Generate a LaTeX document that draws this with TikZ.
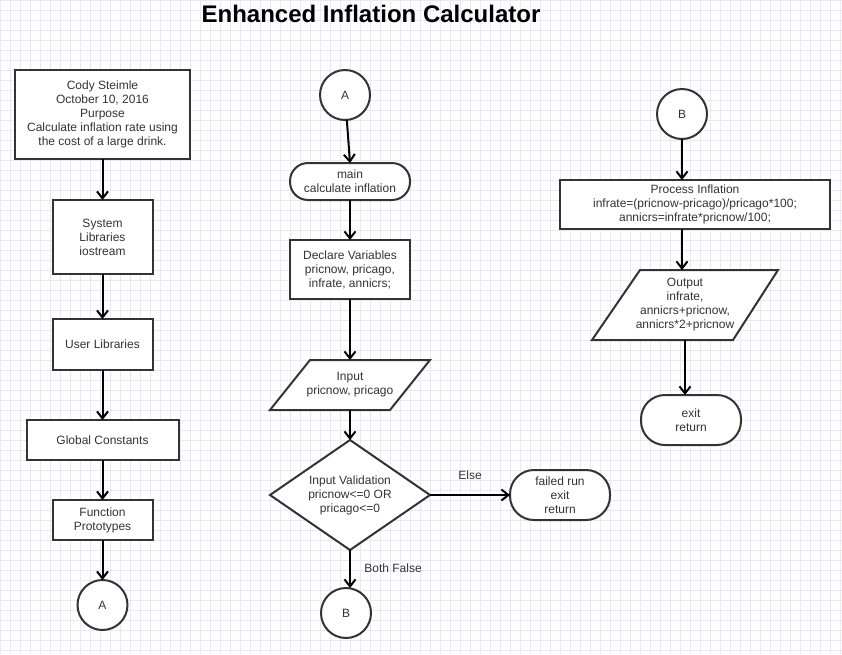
\documentclass[tikz,border=0pt]{standalone}
\usepackage{fontspec}
\setmainfont{Liberation Sans}
\usetikzlibrary{positioning,arrows.meta,backgrounds}

\definecolor{gridc}{RGB}{232,232,250}
\definecolor{inkc}{RGB}{51,51,51}

\begin{document}
\begin{tikzpicture}[
    x=1pt, y=-1pt,
    node distance=40pt,
    every node/.style={font=\fontsize{12}{14}\selectfont, text=inkc},
    proc/.style={rectangle, draw=inkc, line width=2pt, fill=white, align=center, outer sep=0pt},
    term/.style={rectangle, draw=inkc, line width=2pt, fill=white, rounded corners=18pt, align=center, outer sep=0pt},
    conn/.style={circle, draw=inkc, line width=2pt, fill=white, minimum size=50pt, inner sep=0pt, outer sep=0pt},
    frame/.style={rectangle, inner sep=0pt, outer sep=0pt, align=center},
    shapeline/.style={draw=inkc, line width=2pt, fill=white},
    arrow/.style={-{Straight Barb[length=7pt,width=11pt]}, line width=2pt, black},
    gridline/.style={gridc, line width=1pt},
]
    \useasboundingbox (0,0) rectangle (842,654);

    % Grid paper
    \begin{scope}[on background layer]
        \fill[white] (0,0) rectangle (842,654);
        \foreach \gx in {0,10,...,840} \draw[gridline] (\gx,0) -- (\gx,654);
        \foreach \gy in {0,10,...,650} \draw[gridline] (0,\gy) -- (842,\gy);
    \end{scope}

    % Title
    \node[font=\fontsize{24}{28}\selectfont\bfseries, text=black] (title) at (371,14) {Enhanced Inflation Calculator};

    % Left column
    \node[proc, minimum width=175pt, minimum height=89pt] (info) at (102.5,114.5) {Cody Steimle\\October 10, 2016\\Purpose\\Calculate inflation rate using\\the cost of a large drink.};
    \node[proc, minimum width=100pt, minimum height=74pt, below=41pt of info] (syslib) {System\\Libraries\\iostream};
    \node[proc, minimum width=100pt, minimum height=51pt, below=45pt of syslib] (userlib) {User Libraries};
    \node[proc, minimum width=152pt, minimum height=40pt, below=50pt of userlib] (consts) {Global Constants};
    \node[proc, minimum width=100pt, minimum height=40pt, below=40pt of consts] (protos) {Function\\Prototypes};
    \node[conn, below=40pt of protos] (toA) {A};

    % Middle column
    \node[conn] (fromA) at (345,95) {A};
    \node[term, minimum width=120pt, minimum height=37pt] (main) at (350,181.5) {main\\calculate inflation};
    \node[proc, minimum width=120pt, minimum height=59pt, below=40pt of main] (decl) {Declare Variables\\pricnow, pricago,\\infrate, annicrs;};
    \node[frame, minimum width=160pt, minimum height=50pt, below=61pt of decl] (input) {Input\\pricnow, pricago};
    \node[frame, minimum width=160pt, minimum height=110pt, below=30pt of input] (valid) {Input Validation\\pricnow<=0 OR\\pricago<=0};
    \node[term, minimum width=100pt, minimum height=50pt, rounded corners=24pt, right=80pt of valid] (fail) {failed run\\exit\\return};
    \node[conn] (toB) at (346,613) {B};

    % Right column
    \node[conn] (fromB) at (682,114) {B};
    \node[proc, minimum width=270pt, minimum height=49pt] (calc) at (695,204.5) {Process Inflation\\infrate=(pricnow-pricago)/pricago*100;\\annicrs=infrate*pricnow/100;};
    \node[frame, minimum width=186pt, minimum height=70pt] (output) at (685,305) {Output\\infrate,\\annicrs+pricnow,\\annicrs*2+pricnow};
    \node[term, minimum width=100pt, minimum height=50pt, rounded corners=24pt] (done) at (691,420) {exit\\return};

    % Parallelograms and decision
    \begin{scope}[on background layer]
        \draw[shapeline] (input.south west) -- ([xshift=40pt]input.north west) -- (input.north east) -- ([xshift=-40pt]input.south east) -- cycle;
        \draw[shapeline] (valid.north) -- (valid.east) -- (valid.south) -- (valid.west) -- cycle;
        \draw[shapeline] (output.south west) -- ([xshift=48pt]output.north west) -- (output.north east) -- ([xshift=-45pt]output.south east) -- cycle;
    \end{scope}

    % Left arrows
    \draw[arrow] (info) -- (syslib);
    \draw[arrow] (syslib) -- (userlib);
    \draw[arrow] (userlib) -- (consts);
    \draw[arrow] (consts) -- (protos);
    \draw[arrow] (protos) -- (toA);

    % Middle arrows
    \draw[arrow] (fromA) -- (main.north);
    \draw[arrow] (main) -- (decl);
    \draw[arrow] (decl) -- (input);
    \draw[arrow] (input) -- (valid.north);
    \draw[arrow] (valid.east) -- node[midway, above=11pt] (elselbl) {Else} (fail);
    \draw[arrow] (valid.south) -- node[midway, right=10pt, yshift=1pt] (falselbl) {Both False} (valid.south |- toB.north);

    % Right arrows
    \draw[arrow] (fromB) -- (fromB |- calc.north);
    \draw[arrow] (fromB |- calc.south) -- (fromB |- output.north);
    \draw[arrow] (output.south) -- (output.south |- done.north);
\end{tikzpicture}
\end{document}
